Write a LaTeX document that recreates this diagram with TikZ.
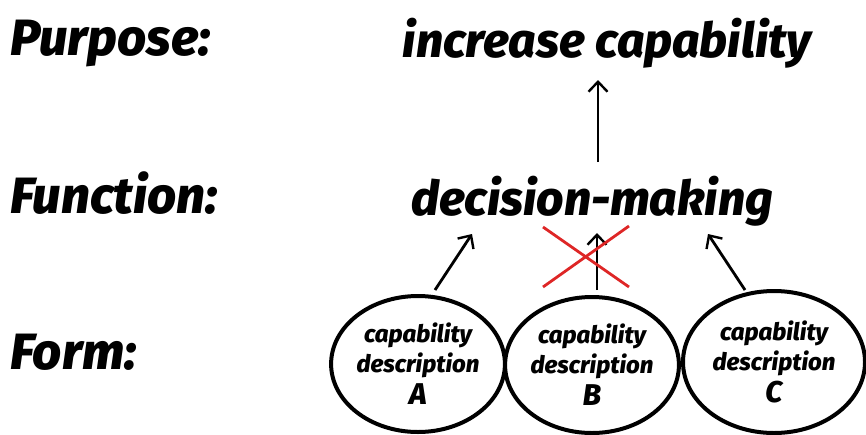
\documentclass[tikz,border=0pt]{standalone}
\usepackage{fontspec}
\setmainfont{Fira Sans}[BoldItalicFont={Fira Sans ExtraBold Italic}]
\usetikzlibrary{shapes.geometric,arrows.meta}
\definecolor{xred}{RGB}{222,38,38}
\tikzset{
  big/.style={font=\fontsize{51}{56}\selectfont\bfseries\itshape, inner sep=0pt},
  mid/.style={font=\fontsize{48}{52}\selectfont\bfseries\itshape, inner sep=0pt},
  blob/.style={draw, ellipse, line width=4pt, align=center, inner sep=0pt,
    font=\fontsize{24}{30}\selectfont\bfseries\itshape},
  arr/.style={line width=2.8pt, -{Straight Barb[length=10pt,width=19pt,line width=2.4pt]}},
  cross/.style={xred, line width=2.8pt}
}
\begin{document}
\begin{tikzpicture}[x=1pt,y=-1pt]
\useasboundingbox (0,0) rectangle (866,434);
\node[big, anchor=base west] (purpose) at (10,55) {Purpose:};
\node[big, anchor=base west] (function) at (10,213) {Function:};
\node[big, anchor=base west] (form) at (10,369) {Form:};
\node[mid, anchor=base] (cap) at (607,57) {increase capability};
\node[mid, anchor=base] (dm) at (592,215) {decision-making};
\node[blob, minimum width=166pt, minimum height=136pt] (A) at (418,364) {capability\\description\\[2pt]{\fontsize{30}{30}\selectfont A}};
\node[blob, minimum width=158pt, minimum height=136pt] (B) at (592,365) {capability\\description\\[2pt]{\fontsize{30}{30}\selectfont B}};
\node[blob, minimum width=182pt, minimum height=142pt] (C) at (774,362) {capability\\description\\[2pt]{\fontsize{30}{30}\selectfont C}};
\coordinate (dmtop) at (598,80);
\coordinate (dmbot) at (598,162);
\coordinate (ta) at (472,234);
\coordinate (tb) at (597,233);
\coordinate (tc) at (708,234);
\coordinate (sa) at (435,290);
\coordinate (sb) at (597,290);
\coordinate (sc) at (745,290);
\draw[arr] (dmbot) -- (dmtop);
\draw[arr] (sa) -- (ta);
\draw[arr] (sb) -- (tb);
\draw[arr] (sc) -- (tc);
\coordinate (x1) at (543,227);
\coordinate (x2) at (629,287);
\coordinate (x3) at (629,226);
\coordinate (x4) at (543,287);
\draw[cross] (x1) -- (x2);
\draw[cross] (x3) -- (x4);
\end{tikzpicture}
\end{document}
